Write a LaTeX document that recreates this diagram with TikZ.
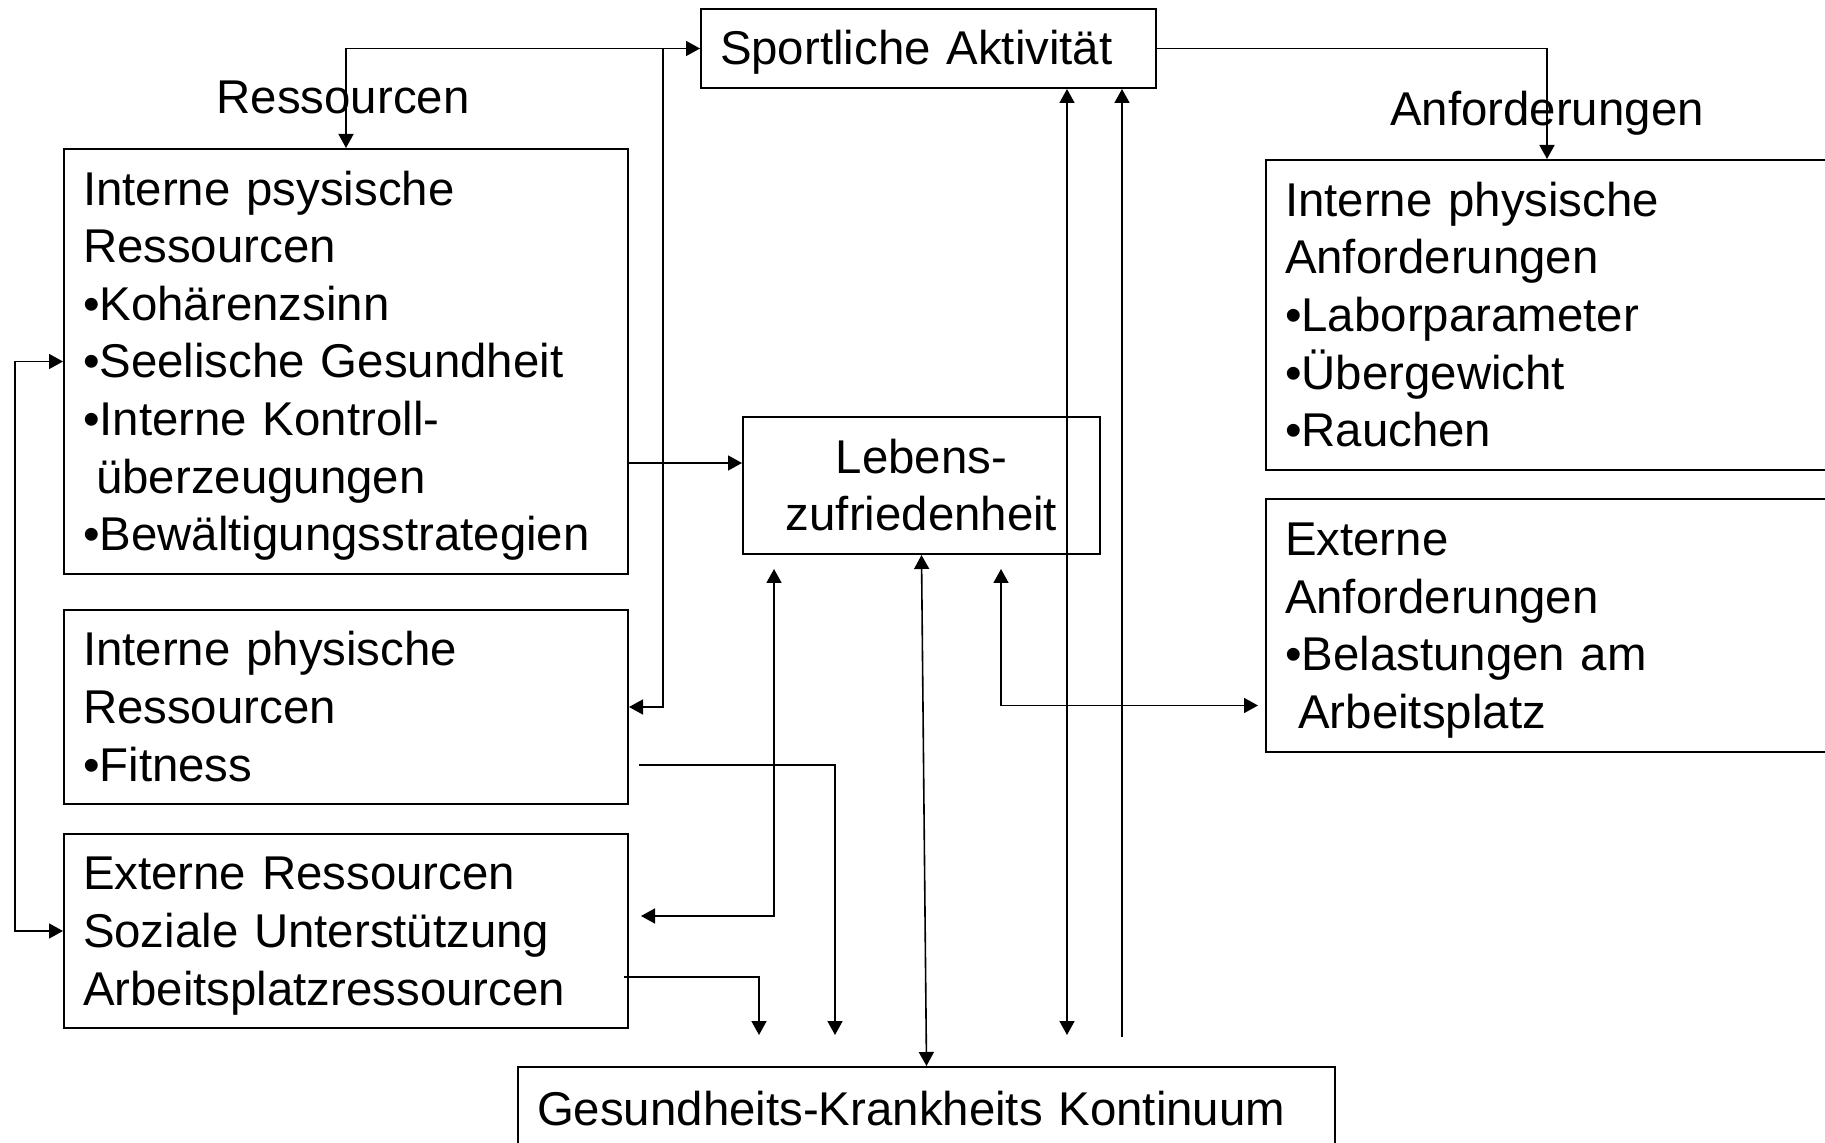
\documentclass[tikz,border=0pt]{standalone}
\usepackage{fontspec}
\setmainfont{Liberation Sans}
\usepackage{tikz}
\usetikzlibrary{arrows.meta, calc}
\newcommand{\schrift}{\fontsize{23.7}{28.8}\selectfont}
\newcommand{\zeilenstuetze}{\rule[-5pt]{0pt}{26.45pt}}

\begin{document}
\begin{tikzpicture}[x=0.5pt, y=-0.5pt,
        kasten/.style={draw, line width=1pt, anchor=north west, align=left, inner xsep=9.5pt, inner ysep=0pt, font=\schrift,
            execute at begin node=\zeilenstuetze, execute at end node=\zeilenstuetze},
        etikett/.style={anchor=base, inner sep=0pt, font=\schrift},
        pfeil/.style={line width=0.8pt},
        >={Triangle[width=7.5pt, length=7pt]}]
    \useasboundingbox (0,0) rectangle (1825,1143);
    \clip (0,0) rectangle (1825,1143);

    % Kaesten
    \node[kasten, text width=208.5pt, minimum height=39.5pt] (sport) at (700,8) {Sportliche Aktivität};
    \node[kasten, text width=263pt, minimum height=212.5pt] (psych) at (63,148) {
        Interne psysische\\Ressourcen\\•Kohärenzsinn\\•Seelische Gesundheit\\•Interne Kontroll-\\\hspace*{.28em}überzeugungen\\•Bewältigungsstrategien};
    \node[kasten, text width=263pt, minimum height=97pt] (phys) at (63,609) {
        Interne physische\\Ressourcen\\•Fitness};
    \node[kasten, text width=263pt, minimum height=97pt] (ext) at (63,833) {
        Externe Ressourcen\\Soziale Unterstützung\\Arbeitsplatzressourcen};
    \node[kasten, align=center, text width=159.5pt, minimum height=68.5pt] (leben) at (742,416) {
        Lebens-\\zufriedenheit};
    \node[kasten, text width=298.5pt, minimum height=155pt] (anfint) at (1265,159) {
        Interne physische\\Anforderungen\\•Laborparameter\\•Übergewicht\\•Rauchen};
    \node[kasten, text width=298.5pt, minimum height=126.5pt] (anfext) at (1265,498) {
        Externe\\Anforderungen\\•Belastungen am\\\hspace*{.28em}Arbeitsplatz};
    \node[kasten, text width=389.5pt, minimum height=42pt] (gkk) at (517,1066) {Gesundheits-Krankheits Kontinuum};

    \node[etikett] (ressl) at (343,114) {Ressourcen};
    \node[etikett] (anfl) at (1547,126) {Anforderungen};

    % Hilfspunkte
    \coordinate (gabel) at ($(sport.west)+(-37,0)$);
    \coordinate (lzin) at ($(leben.west)+(0,-22.5)$);
    \coordinate (fitaus) at ($(phys.east)+(10,58)$);
    \coordinate (fitend) at (835,1035);
    \coordinate (extaus) at ($(ext.east)+(-5,46)$);
    \coordinate (extend) at (759,1035);
    \coordinate (zuf1) at (774,569);
    \coordinate (extein) at ($(ext.east)+(12,-15)$);
    \coordinate (zuf2) at (1001,569);
    \coordinate (anfaus) at ($(anfext.west)+(-7,80)$);
    \coordinate (spin1) at ($(sport.south)+(138.5,0)$);
    \coordinate (spaus1) at (spin1 |- fitend);
    \coordinate (spin2) at ($(sport.south)+(193.5,0)$);
    \coordinate (spaus2) at ($(spin2 |- fitend)+(0,2)$);
    \coordinate (anfein) at ($(anfint.north west)+(282,0)$);

    % Verbindungen
    \draw[pfeil, <->] (psych.north) |- (sport.west);
    \draw[pfeil, ->] (gabel) |- (phys.east);
    \draw[pfeil, <->] (psych.west) -- ++(-48,0) |- (ext.west);
    \draw[pfeil, ->] (psych.east |- lzin) -- (lzin);
    \draw[pfeil, ->] (fitaus) -| (fitend);
    \draw[pfeil, ->] (extaus) -| (extend);
    \draw[pfeil, <->] (zuf1) |- (extein);
    \draw[pfeil, <->] (leben.south) -- (gkk.north);
    \draw[pfeil, <->] (zuf2) |- (anfaus);
    \draw[pfeil, <->] (spin1) -- (spaus1);
    \draw[pfeil, ->] (spaus2) -- (spin2);
    \draw[pfeil, ->] (sport.east) -| (anfein);
\end{tikzpicture}
\end{document}
